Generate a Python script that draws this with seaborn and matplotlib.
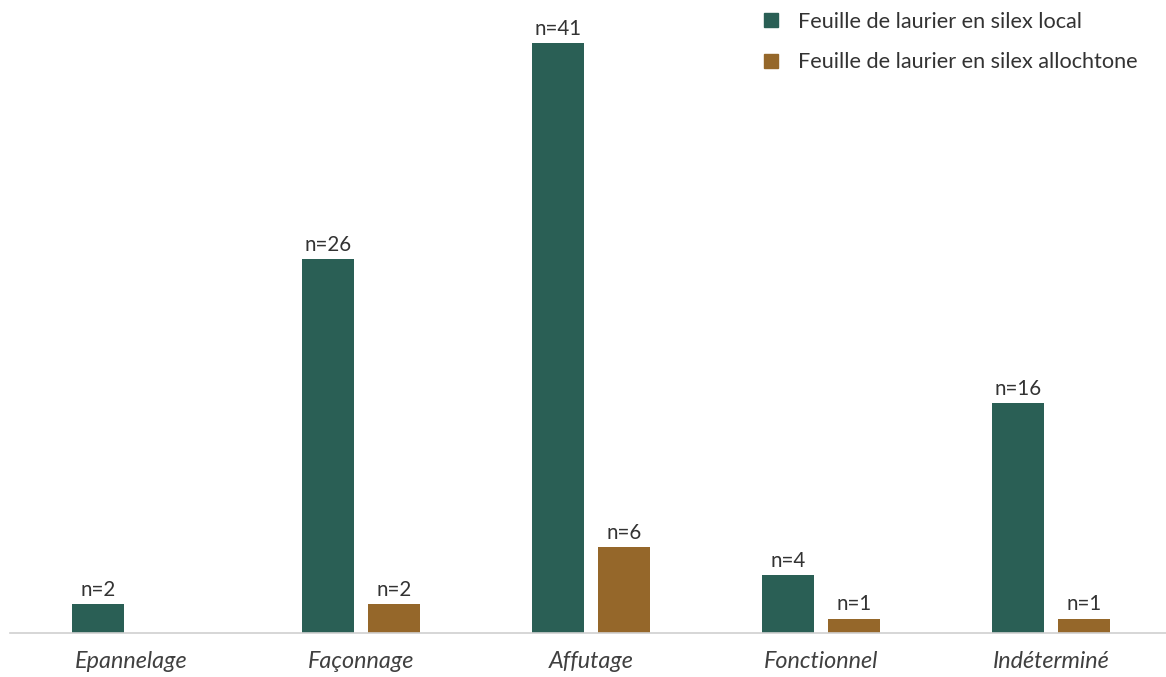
import pandas as pd
import numpy as np
import matplotlib.pyplot as plt
import seaborn as sns

# Data
categories = ["Epannelage", "Façonnage", "Affutage", "Fonctionnel", "Indéterminé"]
local_values = [2, 26, 41, 4, 16]
allochtone_values = [0, 2, 6, 1, 1]
series_names = ["Feuille de laurier en silex local", "Feuille de laurier en silex allochtone"]
colors = ["#2a5f55", "#95672a"]

df = pd.DataFrame({
    "Categorie": categories * 2,
    "Serie": [series_names[0]] * len(categories) + [series_names[1]] * len(categories),
    "Valeur": local_values + allochtone_values,
})

sns.set_theme(style="white")
plt.rcParams["font.family"] = ["Lato", "DejaVu Sans"]

fig = plt.figure(figsize=(11.66, 6.77), dpi=100)
ax = fig.add_axes([10 / 1166, 44 / 677, 1156 / 1166, 633 / 677])

sns.barplot(data=df, x="Categorie", y="Valeur", hue="Serie", palette=colors,
            width=0.574, gap=0.21, order=categories, hue_order=series_names,
            legend=False, ax=ax, saturation=1, linewidth=0, edgecolor="none")

# value labels
for container in ax.containers:
    labels = [f"n={int(v)}" if v > 0 else "" for v in container.datavalues]
    ax.bar_label(container, labels=labels, padding=3, fontsize=14.8, color="#333333")

ax.set_xlim(-0.526, 4.5)
ax.set_ylim(0, 44)
ax.set_xlabel("")
ax.set_ylabel("")
ax.set_yticks([])
ax.tick_params(axis="x", length=0, pad=13, labelsize=16.8, labelcolor="#404040")
for lbl in ax.get_xticklabels():
    lbl.set_fontstyle("italic")

for side in ["top", "right", "left"]:
    ax.spines[side].set_visible(False)
ax.spines["bottom"].set_color("#d0d0d0")
ax.spines["bottom"].set_linewidth(1.2)

# legend with square markers
handles = [plt.Line2D([], [], marker="s", linestyle="", markersize=10.5, color=c) for c in colors]
fig.legend(handles, series_names, loc="upper left", bbox_to_anchor=(741 / 1166, 1 + 8 / 677),
           frameon=False, fontsize=15.6, handletextpad=0.75, labelspacing=0.95,
           labelcolor="#333333", handlelength=1.0)

fig.savefig("out.png", dpi=100)
